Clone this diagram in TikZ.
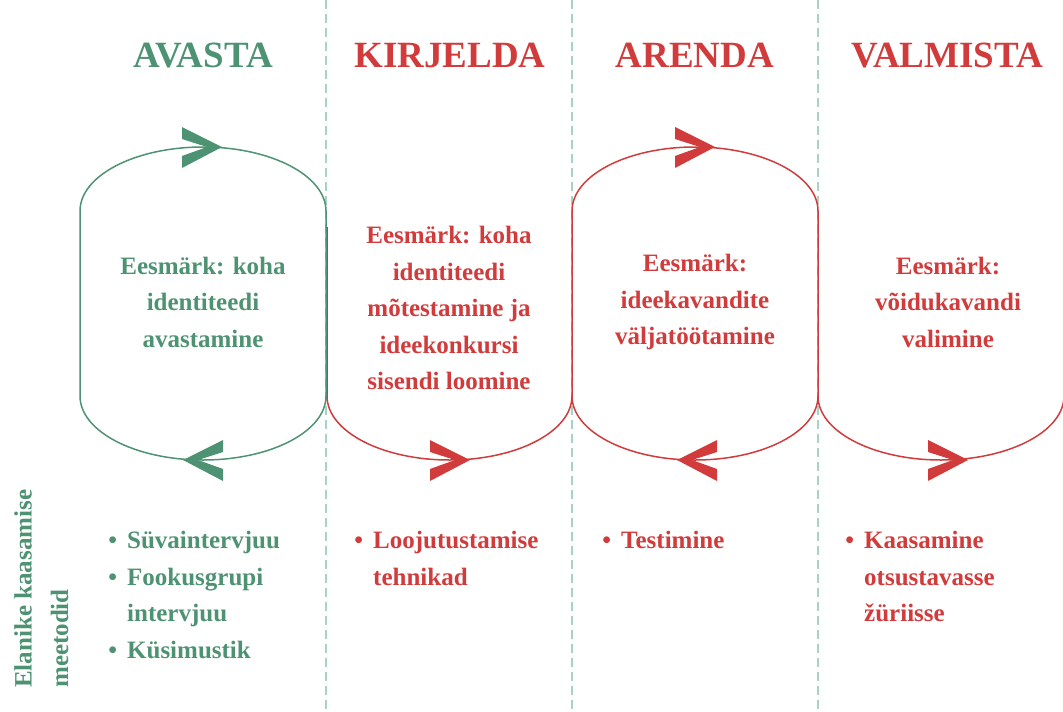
\documentclass[tikz,border=0pt]{standalone}
\usepackage{fontspec}
\setmainfont{Liberation Serif}
\definecolor{avgreen}{HTML}{4D9272}
\definecolor{avred}{HTML}{D13B3B}
\definecolor{colline}{HTML}{A9D2C7}
\newcommand{\itembul}{\llap{\fontsize{25}{25}\selectfont\textbullet\hspace{10pt}}}
\tikzset{
  phase/.style = {font=\fontsize{37}{37}\selectfont\bfseries, inner sep=0pt, anchor=base},
  goal/.style = {font=\fontsize{25}{36.5}\selectfont\bfseries, align=center, inner sep=0pt},
  methods/.style = {font=\fontsize{25}{36.5}\selectfont\bfseries, align=left, inner sep=0pt, anchor=north west},
  loop/.style = {line width=1.5pt, line join=round},
  colsep/.style = {colline, line width=1.5pt, dash pattern=on 9pt off 5pt},
}

\begin{document}
\begin{tikzpicture}[x=1pt, y=-1pt]
\useasboundingbox (0,0) rectangle (1063,712);
\clip (0,0) rectangle (1063,712);
% column separators
\foreach \x in {326,572,818}
  \draw[colsep] (\x,0) -- (\x,712);

% phase names
\node[phase, avgreen] (avasta) at (203,67) {AVASTA};
\node[phase, avred] (kirjelda) at (450,67) {KIRJELDA};
\node[phase, avred] (arenda) at (695,67) {ARENDA};
\node[phase, avred] (valmista) at (947,67) {VALMISTA};

% loops
\draw[loop, avred] (327,227) -- (327,396)
  arc[start angle=180, end angle=360, x radius=122.5pt, y radius=64pt];
\draw[loop, avred] (572,211)
  arc[start angle=180, end angle=0, x radius=123pt, y radius=64pt] -- (818,396)
  arc[start angle=0, end angle=-180, x radius=123pt, y radius=64pt] -- cycle;
\draw[loop, avred] (818,396)
  arc[start angle=180, end angle=360, x radius=123pt, y radius=64pt];
\draw[loop, avgreen] (80,211)
  arc[start angle=180, end angle=0, x radius=123pt, y radius=64pt] -- (326,396)
  arc[start angle=0, end angle=-180, x radius=123pt, y radius=64pt] -- cycle;

% chevrons on the loops (tip x, tip y, direction, colour)
\foreach \tx/\ty/\dir/\col in {222/147/1/avgreen, 183/460/-1/avgreen,
    470/460/1/avred, 715/147/1/avred, 677/460/-1/avred, 968/460/1/avred}
  \fill[\col] ({\tx-40*\dir},{\ty-20}) -- (\tx,\ty) -- ({\tx-40*\dir},{\ty+21})
    -- ({\tx-40*\dir},{\ty+9}) -- ({\tx-15*\dir},\ty) -- ({\tx-40*\dir},{\ty-8}) -- cycle;

% goals
\node[goal, avgreen] (avasta-goal) at (203,302) {Eesmärk: koha\\identiteedi\\avastamine};
\node[goal, avred] (kirjelda-goal) at (449,308) {Eesmärk: koha\\identiteedi\\mõtestamine ja\\ideekonkursi\\sisendi loomine};
\node[goal, avred] (arenda-goal) at (695,302) {Eesmärk:\\ideekavandite\\väljatöötamine};
\node[goal, avred] (valmista-goal) at (948,302) {Eesmärk:\\võidukavandi\\valimine};

% methods
\node[methods, avgreen, rotate=90] (methods-label) at (14,688) {Elanike kaasamise\\meetodid};
\node[methods, avgreen] (avasta-list) at (127,531) {\itembul Süvaintervjuu\\\itembul Fookusgrupi\\intervjuu\\\itembul Küsimustik};
\node[methods, avred] (kirjelda-list) at (373,531) {\itembul Loojutustamise\\tehnikad};
\node[methods, avred] (arenda-list) at (621,531) {\itembul Testimine};
\node[methods, avred] (valmista-list) at (864,531) {\itembul Kaasamine\\otsustavasse\\žüriisse};
\end{tikzpicture}
\end{document}
